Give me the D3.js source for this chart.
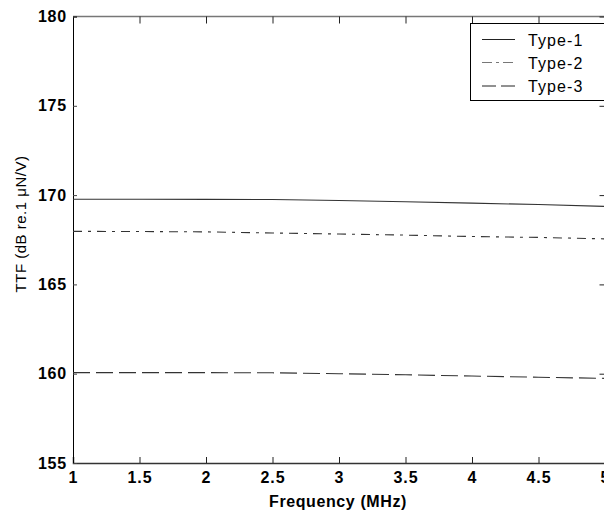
<!DOCTYPE html>
<html>
<head>
<meta charset="utf-8">
<script src="https://cdn.jsdelivr.net/npm/d3@7"></script>
<style>
  body { margin: 0; background: #fff; }
  svg { display: block; font-family: 'Liberation Sans', Arial, sans-serif; }
  .tick text { font-size: 16px; font-weight: bold; fill: #000; }
</style>
</head>
<body>
<svg width="604" height="515"></svg>
<script>
const freq = [1, 1.5, 2, 2.5, 3, 3.5, 4, 4.5, 5]
const type1 = [169.77, 169.77, 169.76, 169.75, 169.7, 169.63, 169.55, 169.47, 169.37]
const type2 = [167.97, 167.96, 167.94, 167.88, 167.82, 167.76, 167.68, 167.63, 167.55]
const type3 = [160.06, 160.06, 160.06, 160.05, 160.0, 159.94, 159.87, 159.8, 159.74]
const seriesNames = ['Type-1', 'Type-2', 'Type-3']
const xTicks = [1, 1.5, 2, 2.5, 3, 3.5, 4, 4.5, 5]
const yTicks = [155, 160, 165, 170, 175, 180]

var margin = { top: 16.5, left: 73, right: 605, bottom: 463 }
var svg = d3.select('svg')

const xScale = d3.scaleLinear().domain([1, 5]).range([margin.left, margin.right])
const yScale = d3.scaleLinear().domain([155, 180]).range([margin.bottom, margin.top])

// frame lines
svg.append('line')
  .attr('x1', margin.left).attr('x2', margin.right)
  .attr('y1', margin.top).attr('y2', margin.top)
  .attr('stroke', '#777').attr('stroke-width', 1.5)

// top & right ticks (no labels)
svg.append('g')
  .attr('transform', `translate(0, ${margin.top})`)
  .call(d3.axisTop(xScale).tickValues(xTicks).tickSize(-7).tickFormat(''))
  .call((g) => g.select('.domain').remove())
  .selectAll('line').attr('stroke', '#222')

svg.append('g')
  .attr('transform', `translate(${margin.right - 0.5}, 0)`)
  .call(d3.axisRight(yScale).tickValues(yTicks).tickSize(-5).tickFormat(''))
  .call((g) => g.select('.domain').remove())
  .selectAll('line').attr('stroke', '#222')

const xAxis = d3.axisBottom(xScale).tickValues(xTicks).tickSize(-6).tickPadding(9)
  .tickFormat((d) => d)
const yAxis = d3.axisLeft(yScale).tickValues(yTicks).tickSize(-4).tickPadding(6)

svg.append('g')
  .attr('id', 'x-axis')
  .attr('transform', `translate(0, ${margin.bottom})`)
  .call(xAxis)
  .call((g) => g.select('.domain').attr('stroke', '#333').attr('stroke-width', 1.5))
  .call((g) => g.selectAll('.tick line').attr('stroke', '#222'))
  .call((g) => g.selectAll('.tick text').attr('letter-spacing', '1px'))

svg.append('g')
  .attr('id', 'y-axis')
  .attr('transform', `translate(${margin.left}, 0)`)
  .call(yAxis)
  .call((g) => g.select('.domain').attr('stroke', '#000'))
  .call((g) => g.selectAll('.tick line').attr('stroke', '#444'))
  .call((g) => g.selectAll('.tick text').attr('letter-spacing', '0.8px'))

// axis titles
svg.append('text')
  .attr('x', 338).attr('y', 507)
  .attr('text-anchor', 'middle')
  .attr('font-size', 16).attr('font-weight', 'bold').attr('letter-spacing', '0.6px')
  .text('Frequency (MHz)')

svg.append('text')
  .attr('transform', 'translate(26, 224) rotate(-90)')
  .attr('text-anchor', 'middle')
  .attr('font-size', 15).attr('letter-spacing', '0.5px')
  .text('TTF (dB re.1 \u03bcN/V)')

// series
const dashes = ['none', '9,6,3,6', '17,6']
const allSeries = [type1, type2, type3]
const line = d3.line().x((d) => xScale(d[0])).y((d) => yScale(d[1]))

allSeries.forEach((vals, i) => {
  svg.append('path')
    .datum(freq.map((f, j) => [f, vals[j]]))
    .attr('d', line)
    .attr('fill', 'none')
    .attr('stroke', '#333')
    .attr('stroke-width', 1.1)
    .attr('stroke-dasharray', dashes[i])
})

// legend
var legend = svg.append('g')
legend.append('rect')
  .attr('x', 470.5).attr('y', 23.5)
  .attr('width', 134).attr('height', 77)
  .attr('fill', '#fff').attr('stroke', '#000')

const legendY = [39.5, 62.5, 86]
const legendDash = ['none', '10,4,3,4', '14,5']
seriesNames.forEach((name, i) => {
  legend.append('line')
    .attr('x1', 482).attr('x2', 515)
    .attr('y1', legendY[i]).attr('y2', legendY[i])
    .attr('stroke', i === 1 ? '#777' : '#222')
    .attr('stroke-dasharray', legendDash[i])
  legend.append('text')
    .attr('x', 528).attr('y', legendY[i] + 6)
    .attr('font-size', 16).attr('letter-spacing', '1.1px')
    .text(name)
})
</script>
</body>
</html>
